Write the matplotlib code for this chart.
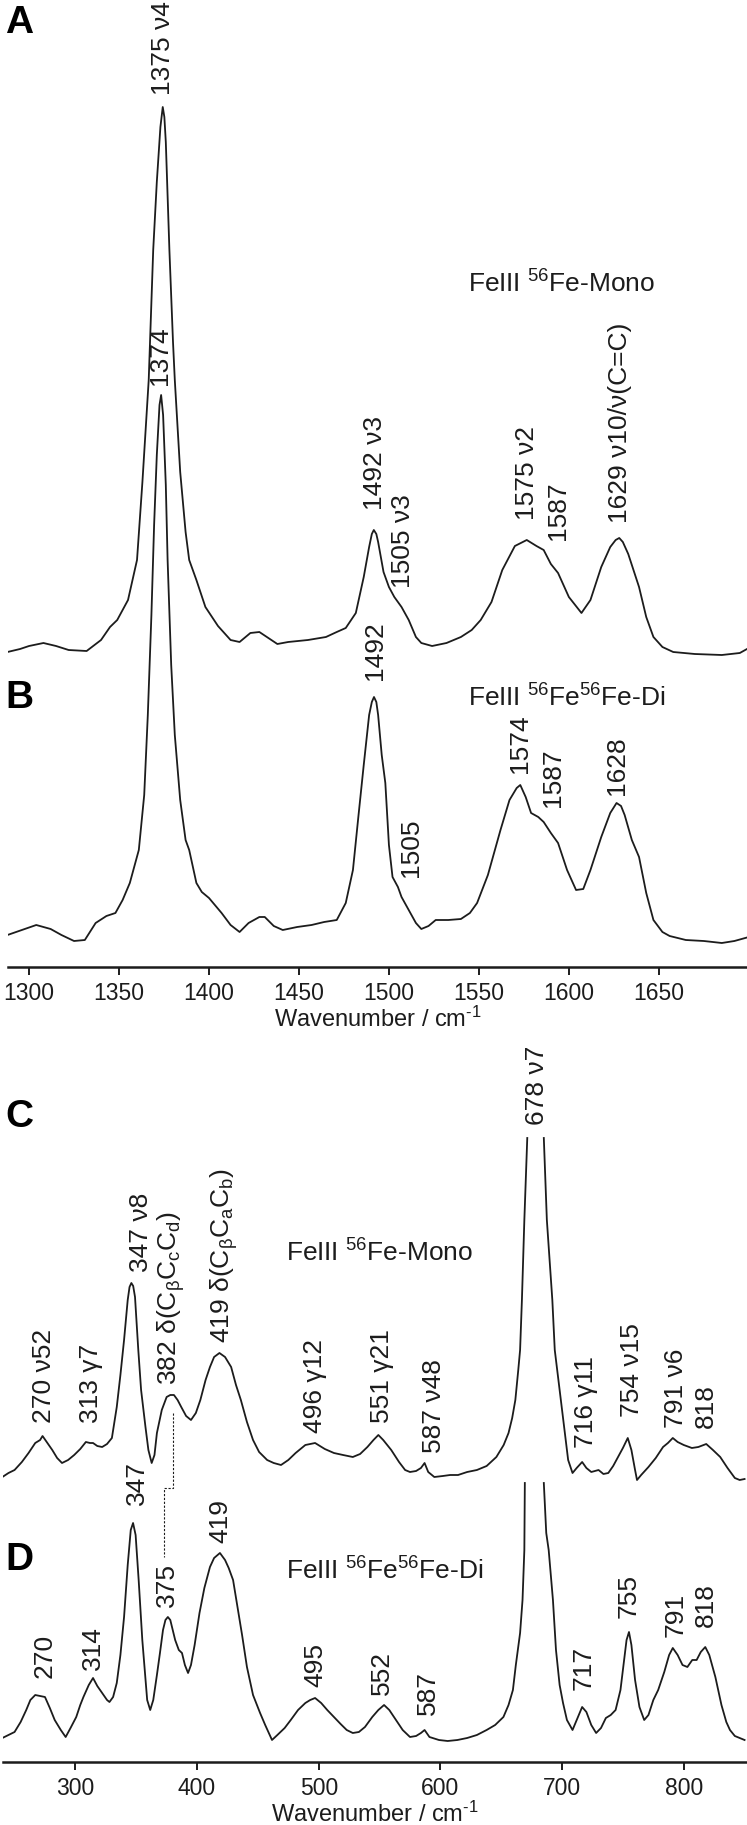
import numpy as np
import matplotlib
matplotlib.use("Agg")
import matplotlib.pyplot as plt

plt.rcParams['font.family'] = ['Liberation Sans', 'DejaVu Sans']
plt.rcParams['mathtext.fontset'] = 'custom'
plt.rcParams['mathtext.rm'] = 'Liberation Sans'
plt.rcParams['mathtext.it'] = 'Liberation Sans'
plt.rcParams['mathtext.bf'] = 'Liberation Sans:bold'

# ---------------- data: high-frequency region (A, B) ----------------
wn_A = [1288, 1295, 1300, 1308, 1315, 1322, 1332, 1340, 1345, 1349, 1355, 1360, 1363, 1366.5,
        1369, 1371, 1373, 1374.3, 1375.2, 1376, 1378, 1380, 1381, 1384, 1387, 1389, 1393, 1398, 1405,
        1412, 1417, 1423, 1428, 1433, 1438, 1444, 1455, 1465, 1471, 1476, 1481.6, 1486, 1489,
        1490.5, 1491.6, 1493, 1494, 1497, 1500, 1503, 1507, 1511, 1515, 1518, 1524, 1532, 1540, 1546, 1551,
        1557, 1563, 1570, 1576.6, 1582, 1586, 1590, 1594, 1600, 1607, 1612, 1618, 1623, 1626, 1628,
        1630, 1633, 1639, 1643, 1647, 1652, 1658, 1670, 1685, 1695, 1700]
int_A = [0.0, 0.3, 0.6, 0.9, 0.6, 0.2, 0.1, 1.2, 2.5, 3.2, 5.2, 9.2, 17.0, 27.2,
         40.2, 47.0, 52.5, 54.5, 53.5, 51.0, 40.2, 31.0, 27.2, 18.0, 12.0, 9.2, 7.2, 4.5, 2.6,
         1.2, 1.0, 1.9, 2.0, 1.4, 0.8, 1.0, 1.2, 1.5, 2.0, 2.4, 3.9, 7.5, 10.5,
         11.8, 12.2, 11.8, 11.0, 8.0, 6.5, 5.5, 4.5, 3.2, 1.5, 0.9, 0.6, 0.9, 1.5, 2.2, 3.2,
         5.0, 8.2, 10.6, 11.2, 10.6, 10.2, 8.8, 7.9, 5.5, 3.9, 5.2, 8.5, 10.5, 11.2, 11.4,
         11.0, 9.8, 6.5, 3.5, 1.5, 0.5, 0.0, -0.2, -0.3, -0.1, 0.4]

wn_B = [1288, 1296, 1304, 1312, 1318, 1325, 1331, 1337, 1343, 1348, 1352, 1356, 1361, 1364,
        1366, 1368, 1369.5, 1371, 1372.5, 1373.4, 1374.5, 1376, 1377, 1379, 1381, 1384, 1387,
        1389, 1393, 1396, 1400, 1407, 1412, 1417, 1422, 1428, 1431, 1436, 1441, 1449, 1457,
        1464, 1471, 1476, 1480, 1483, 1486, 1489, 1490.5, 1491.7, 1493, 1494, 1496, 1498, 1500, 1502, 1505,
        1507, 1511, 1515, 1518, 1522, 1526, 1533, 1540, 1545, 1549, 1555, 1562, 1567, 1571, 1573,
        1576, 1579, 1583, 1586, 1590, 1594, 1599, 1604, 1608, 1612, 1618, 1623, 1626.5, 1629, 1631,
        1635, 1639, 1643, 1647, 1652, 1656, 1665, 1675, 1685, 1692, 1700]
int_B = [0.0, 0.5, 1.0, 0.6, 0.0, -0.6, -0.5, 1.2, 1.9, 2.2, 3.5, 5.2, 8.5, 14.0,
         22.0, 32.0, 41.0, 48.0, 53.0, 54.0, 52.0, 45.0, 37.5, 27.0, 20.0, 13.5, 9.5,
         8.5, 5.2, 4.3, 3.7, 2.2, 1.0, 0.3, 1.2, 1.8, 1.8, 0.9, 0.5, 0.8, 1.0,
         1.3, 1.5, 3.2, 6.5, 11.8, 17.0, 22.0, 23.3, 23.8, 23.3, 22.0, 18.0, 15.2, 9.0, 5.8, 4.8,
         3.8, 2.5, 1.2, 0.6, 0.9, 1.5, 1.5, 1.6, 2.2, 3.2, 6.0, 10.5, 13.5, 14.7, 15.0,
         13.8, 12.2, 11.8, 11.3, 10.2, 9.2, 6.5, 4.5, 4.6, 6.5, 9.8, 12.2, 13.2, 12.9, 12.0,
         9.5, 7.8, 4.2, 1.5, 0.3, -0.1, -0.5, -0.6, -0.8, -0.6, -0.2]

# ---------------- data: low-frequency region (C, D) ----------------
wn_C = [240, 245, 250, 256, 261.5, 267, 271, 273, 277, 281, 285, 289, 294, 299, 304, 308.6,
        312, 314.5, 318, 322, 326, 330, 334, 337, 340, 343, 344.5, 346, 347.5, 349, 351.7, 354, 357.6, 360,
        362.7, 365, 367, 371, 375, 378, 381, 384, 387, 391, 395, 399, 402.7, 407, 410.6, 414,
        418.4, 423, 428, 432, 436, 441, 446, 451, 457.6, 463, 469, 475, 481, 489, 497, 505,
        512.5, 520, 528, 534, 540, 545, 549, 553, 559.6, 566, 571, 575, 580, 584, 587, 590,
        595, 602, 608, 614.5, 622, 630, 638, 646, 652, 656, 659, 661.6, 664, 665.5, 667, 669,
        671.4, 678, 685, 687.5, 692, 694, 699, 702, 705, 708.6, 712, 716.5, 720, 724, 730,
        734, 738, 742, 746, 750, 754, 757, 760, 761.6, 765, 771, 777, 783, 787, 791, 795,
        800, 806.7, 812, 818.5, 824, 830, 836, 842, 846, 850]
int_C = [0.0, 0.4, 0.7, 1.5, 2.4, 3.4, 3.7, 4.1, 3.4, 2.7, 1.9, 1.4, 1.7, 2.2, 2.8, 3.5,
         3.4, 3.4, 3.1, 3.0, 3.3, 3.9, 7.0, 10.2, 13.7, 17.7, 19.0, 19.4, 19.1, 18.0, 12.7, 8.7, 5.0, 2.7,
         1.4, 2.2, 4.4, 6.7, 8.0, 8.2, 8.2, 7.7, 7.0, 6.1, 5.7, 6.4, 7.7, 9.7, 11.0, 12.0,
         12.4, 12.0, 11.0, 9.2, 7.7, 5.5, 3.7, 2.5, 1.7, 1.4, 1.2, 1.7, 2.4, 3.2, 3.4, 2.8,
         2.4, 2.2, 2.0, 2.3, 3.0, 3.7, 4.2, 3.7, 2.7, 1.5, 0.7, 0.5, 0.6, 0.9, 1.4, 0.5,
         0.0, 0.1, 0.2, 0.2, 0.5, 0.7, 1.1, 2.0, 3.2, 4.4, 5.9, 7.7, 10.7, 12.7, 17.7, 25.7,
         33.9, np.nan, 33.9, 25.7, 17.7, 12.7, 7.7, 4.7, 1.7, 0.4, 0.9, 1.5, 0.9, 0.5, 0.7,
         0.3, 0.4, 1.1, 2.0, 2.9, 3.9, 2.7, 0.7, -0.3, 0.2, 1.0, 1.9, 3.0, 3.4, 3.9, 3.5,
         3.2, 2.9, 3.0, 3.3, 2.7, 2.0, 0.9, -0.1, -0.3, -0.2]

wn_D = [240, 245, 250, 255, 259.6, 263, 267, 271, 275, 279, 283, 288, 292, 296, 300.7, 304,
        306.6, 311, 314.5, 318, 322, 326, 328, 331, 334, 337, 340, 343, 345.5, 347.4, 349.5,
        352, 355, 359, 361.5, 364, 367, 369.5, 372, 374, 376, 378, 379, 382, 385, 387.6, 390, 392.6,
        395, 398, 402, 406, 410.6, 414, 418.8, 423, 426, 429.6, 433, 437, 441, 446, 451.8,
        456, 461.6, 466, 472, 477, 483, 489, 493, 497, 502, 507, 512.5, 518, 523, 528, 533,
        538, 544, 549, 553.7, 558, 563.5, 569, 575, 580, 584, 587, 591, 598.8, 606, 614, 622,
        630, 638, 645, 651.8, 656, 659.6, 662, 665.5, 667.5, 669, 669.4, 678, 685, 687, 689,
        692.5, 695, 698, 700.8, 704, 708.6, 712, 716.5, 720, 724, 728, 732, 736, 740, 744,
        748, 751, 753, 755, 757, 760, 763.6, 767.5, 771, 775, 779, 784, 788, 791, 795, 799,
        803, 807, 810.6, 814, 817.7, 821, 826, 831, 835, 838, 842, 846, 850]
int_D = [0.0, 0.3, 0.6, 1.6, 2.8, 3.8, 4.3, 4.2, 4.1, 3.0, 1.8, 0.8, 0.1, 1.0, 2.1, 3.3,
         4.1, 5.3, 6.0, 5.2, 4.5, 3.8, 3.6, 4.1, 5.5, 8.3, 12.1, 17.3, 20.8, 21.5, 20.3,
         15.8, 9.8, 3.8, 2.8, 3.8, 6.3, 8.5, 10.8, 11.8, 12.1, 11.8, 11.3, 9.8, 8.8, 8.5, 7.3, 6.5,
         7.3, 9.3, 12.5, 15.0, 17.1, 18.0, 18.5, 17.8, 17.0, 15.8, 13.3, 10.3, 7.1, 4.3, 2.5,
         1.3, -0.2, 0.3, 1.0, 1.8, 2.8, 3.5, 3.8, 4.0, 3.5, 2.8, 2.1, 1.4, 0.8, 0.5, 0.6,
         1.1, 2.1, 2.8, 3.3, 2.8, 1.8, 0.8, 0.1, 0.2, 0.5, 0.8, 0.1, -0.2, -0.3, -0.2, 0.0,
         0.3, 0.8, 1.3, 2.1, 3.3, 4.8, 7.3, 10.5, 13.8, 18.8, 25.5, np.nan, 25.5, 20.5, 18.8,
         13.8, 8.8, 5.3, 3.5, 1.8, 0.8, 1.8, 3.1, 2.6, 1.3, 0.5, 1.0, 2.0, 2.3, 2.8,
         4.8, 7.8, 9.8, 10.6, 9.3, 5.8, 3.1, 1.8, 2.3, 3.8, 4.8, 6.6, 8.3, 9.0, 8.3, 7.3,
         7.1, 7.8, 7.8, 8.6, 9.1, 8.3, 6.1, 3.3, 1.6, 0.8, 0.2, 0.0, -0.2]

# band labels: (text, wavenumber, label bottom height)
labels_A = [("1375 ν4", 1374.5, 87.2), ("1492 ν3", 1492, 45.7), ("1505 ν3", 1508, 37.9),
            ("1575 ν2", 1577, 44.7), ("1587", 1594, 42.7), ("1629 ν10/ν(C=C)", 1628.5, 44.4)]
labels_B = [("1374", 1373, 58.2), ("1492", 1492, 28.7), ("1505", 1512, 9.0),
            ("1574", 1572.6, 19.4), ("1587", 1591, 16.0), ("1628", 1627, 17.2)]
labels_C = [("270 ν52", 274, 33.9), ("313 γ7", 312.5, 33.9), ("347 ν8", 353.7, 49.0),
            (r"382 δ(C$_{β}$C$_{c}$C$_{d}$)", 379, 37.7), (r"419 δ(C$_{β}$C$_{a}$C$_{b}$)", 422, 41.9),
            ("496 γ12", 497, 32.9), ("551 γ21", 551.8, 33.9), ("587 ν48", 595, 30.9),
            ("678 ν7", 679, 63.7), ("716 γ11", 720, 31.4), ("754 ν15", 757.7, 34.5),
            ("791 ν6", 794, 33.4), ("818", 818.5, 33.4)]
labels_D = [("270", 275, 8.4), ("314", 314.5, 9.2), ("347", 350.5, 25.7), ("375", 375, 15.5),
            ("419", 419, 21.9), ("495", 497, 7.5), ("552", 551.8, 6.7), ("587", 590, 4.7),
            ("717", 718, 7.2), ("755", 755, 14.4), ("791", 793, 12.5), ("818", 818.5, 13.5)]

ticks_top = [1300, 1350, 1400, 1450, 1500, 1550, 1600, 1650]
ticks_bot = [300, 400, 500, 600, 700, 800]

# ---------------- figure ----------------
W, H = 747, 1825
fig = plt.figure(figsize=(W / 100, H / 100), dpi=100)
ink = '#1c1c1c'
LW = 1.3
FS = 19


def px_axes(x0, y0, x1, y1):
    return fig.add_axes([x0 / W, 1 - y1 / H, (x1 - x0) / W, (y1 - y0) / H])


def style(ax, ticks):
    for s in ['top', 'left', 'right']:
        ax.spines[s].set_visible(False)
    ax.spines['bottom'].set_linewidth(1.8)
    ax.spines['bottom'].set_color(ink)
    ax.set_yticks([])
    ax.set_xticks(ticks)
    ax.tick_params(axis='x', length=6, width=1.4, color=ink, labelsize=16.5, pad=5, labelcolor=ink)
    ax.set_xlabel('Wavenumber / cm$^{\\mathregular{‐1}}$', fontsize=17, labelpad=1, color=ink)
    ax.patch.set_alpha(0)


def rot_labels(ax, labels):
    for txt, x, yb in labels:
        ax.text(x, yb, txt, rotation=90, ha='center', va='bottom', fontsize=FS, color=ink)


# top panel
axT = px_axes(8, 0, W, 967)
off_A, off_B = 31.5, 3.2
axT.plot(wn_A, np.array(int_A) + off_A, color=ink, lw=LW, solid_joinstyle='round')
axT.plot(wn_B, np.array(int_B) + off_B, color=ink, lw=LW, solid_joinstyle='round')
axT.set_xlim(1288.3, 1699)
axT.set_ylim(0, 96.7)
style(axT, ticks_top)
rot_labels(axT, labels_A)
rot_labels(axT, labels_B)
axT.text(1544, 67.4, r'FeIII $^{56}$Fe-Mono', fontsize=FS, color=ink, ha='left', va='baseline')
axT.text(1544, 26.0, r'FeIII $^{56}$Fe$^{56}$Fe-Di', fontsize=FS, color=ink, ha='left', va='baseline')

# bottom panel
axB = px_axes(3, 1040, W, 1762)
off_C, off_D = 28.5, 2.4
axB.plot(wn_C, np.array(int_C) + off_C, color=ink, lw=LW, solid_joinstyle='round')
axB.plot(wn_D, np.array(int_D) + off_D, color=ink, lw=LW, solid_joinstyle='round')
axB.set_xlim(240.5, 852)
axB.set_ylim(0, 72.2)
style(axB, ticks_bot)
rot_labels(axB, labels_C)
rot_labels(axB, labels_D)
axB.text(473, 50.0, r'FeIII $^{56}$Fe-Mono', fontsize=FS, color=ink, ha='left', va='baseline')
axB.text(473, 18.2, r'FeIII $^{56}$Fe$^{56}$Fe-Di', fontsize=FS, color=ink, ha='left', va='baseline')
axB.plot([380, 380, 373, 373], [34.9, 27.4, 27.4, 20.5], color=ink, lw=0.8,
         linestyle=(0, (2.0, 1.5)))

# panel letters
for letter, ypx in [('A', 33), ('B', 708), ('C', 1127), ('D', 1570)]:
    fig.text(5 / W, 1 - ypx / H, letter, fontsize=28, fontweight='bold', color='black',
             ha='left', va='baseline')

fig.savefig('out.png', dpi=100)
